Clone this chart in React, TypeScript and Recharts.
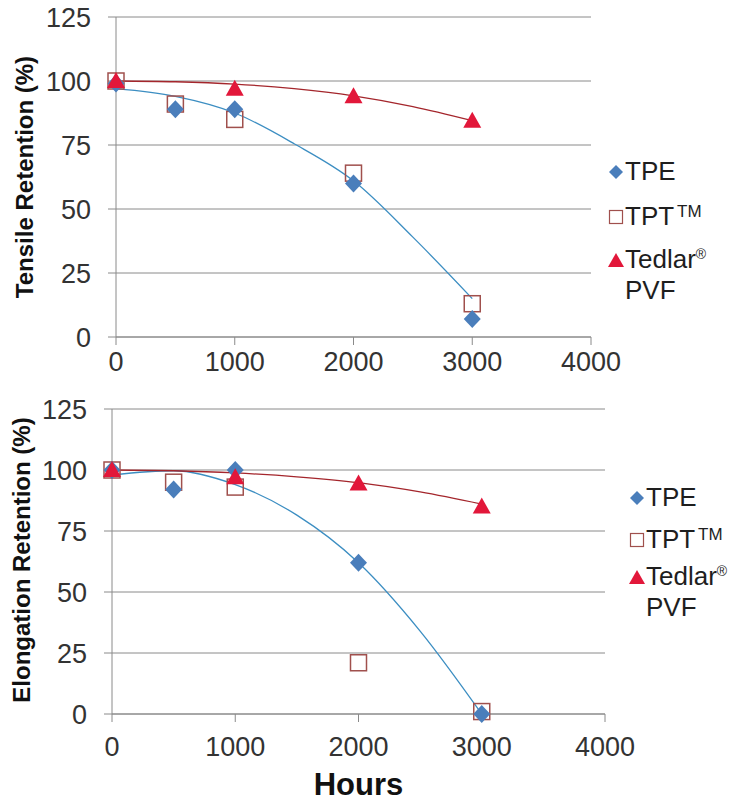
import React from 'react';
import { ScatterChart, Scatter, XAxis, YAxis, CartesianGrid, Legend } from 'recharts';

// measured points
const hours = [0, 500, 1000, 2000, 3000];
const tedlarHours = [0, 1000, 2000, 3000];
const tensileTPE = [99, 89, 89, 60, 7];
const tensileTPT = [100, 91, 85, 64, 13];
const tensileTedlar = [100, 97, 94, 84.5];
const elongTPE = [100, 92, 100, 62, 0];
const elongTPT = [100, 95, 93, 21, 1];
const elongTedlar = [100, 97, 94.5, 85];

// trendlines
const trendHours = [0, 500, 1000, 1500, 2000, 2500, 3000];
const tensileTPETrend = [97, 94, 87.5, 75.5, 61, 39, 15];
const tensileTedlarTrend = [100, 99.7, 98.8, 97, 94.2, 90, 84.5];
const elongTPETrend = [98, 99.7, 94, 81.5, 62, 34, 0];
const elongTedlarTrend = [100, 99.7, 98.8, 97.2, 94.8, 91, 86];

const xTicks = [0, 1000, 2000, 3000, 4000];
const yTicks = [0, 25, 50, 75, 100, 125];
const legendOrder = ['TPE', 'TPT', 'Tedlar'];

const FONT = '"Liberation Sans", Arial, sans-serif';
const GRID = '#8a8a8a';
const BLUE = '#4A7EBB';
const SQUARE = '#A0504D';
const RED = '#E2173A';
const BLUE_TREND = '#3C8EC2';
const RED_TREND = '#A4262C';
const TICK = { fill: '#333', fontSize: 27, fontFamily: FONT };

const toPoints = (xs: number[], ys: number[]) => xs.map((h, i) => ({ h, v: ys[i] }));

const Diamond = ({ cx, cy }: any) => (
  <polygon points={`${cx},${cy - 9} ${cx + 8.5},${cy} ${cx},${cy + 9} ${cx - 8.5},${cy}`} fill={BLUE} />
);
const Square = ({ cx, cy }: any) => (
  <rect x={cx - 8} y={cy - 8} width={16} height={16} fill="none" stroke={SQUARE} strokeWidth={1.5} />
);
const Triangle = ({ cx, cy }: any) => (
  <polygon points={`${cx},${cy - 9} ${cx + 9},${cy + 7} ${cx - 9},${cy + 7}`} fill={RED} />
);
const NoDot = () => <g />;

const legendIcon = (name: string) => {
  if (name === 'TPE')
    return <svg width={18} height={18}><polygon points="9,2 16,9 9,16 2,9" fill={BLUE} /></svg>;
  if (name === 'TPT')
    return <svg width={18} height={18}><rect x={2.5} y={2.5} width={13} height={13} fill="none" stroke={SQUARE} strokeWidth={1.2} /></svg>;
  return <svg width={18} height={18}><polygon points="9,2 17,16 1,16" fill={RED} /></svg>;
};

const legendLabel = (name: string) => {
  if (name === 'TPT')
    return (
      <span>
        TPT<sup style={{ fontSize: 17, verticalAlign: 'top', lineHeight: '22px', marginLeft: 3 }}>TM</sup>
      </span>
    );
  if (name === 'Tedlar')
    return (
      <span>
        Tedlar<sup style={{ fontSize: 14, verticalAlign: 'top', lineHeight: '20px' }}>®</sup>
        <br />
        PVF
      </span>
    );
  return <span>{name}</span>;
};

const makeLegend = (gaps: number[]) => (props: any) => {
  const items = (props.payload || [])
    .filter((e: any) => legendOrder.includes(e.value))
    .sort((a: any, b: any) => legendOrder.indexOf(a.value) - legendOrder.indexOf(b.value));
  return (
    <div style={{ fontFamily: FONT, fontSize: 26, lineHeight: '31px', color: '#1e1e1e' }}>
      {items.map((entry: any, i: number) => (
        <div key={entry.value} style={{ display: 'flex', alignItems: 'flex-start', marginBottom: gaps[i] || 0 }}>
          <div style={{ width: 18, height: 31, display: 'flex', alignItems: 'center' }}>{legendIcon(entry.value)}</div>
          {legendLabel(entry.value)}
        </div>
      ))}
    </div>
  );
};

const yLabel = (text: string, x: number, y: number) => () => (
  <text
    x={x}
    y={y}
    transform={`rotate(-90 ${x} ${y})`}
    textAnchor="middle"
    fontFamily={FONT}
    fontWeight="bold"
    fontSize={24}
    fill="#111"
  >
    {text}
  </text>
);

interface IRetentionChart {
  height: number;
  right: number;
  top: number;
  axisWidth: number;
  xAxisHeight: number;
  xTickMargin: number;
  tpe: { h: number; v: number }[];
  tpt: { h: number; v: number }[];
  tedlar: { h: number; v: number }[];
  tpeTrend: { h: number; v: number }[];
  tedlarTrend: { h: number; v: number }[];
  label: React.ReactNode;
  legendPos: { left: number; top: number };
  legendGaps: number[];
  xLabel?: boolean;
}

const RetentionChart: React.FC<IRetentionChart> = (p) => (
  <ScatterChart width={744} height={p.height} margin={{ top: p.top, right: p.right, bottom: 0, left: 0 }}>
    <CartesianGrid vertical={false} stroke={GRID} />
    <XAxis
      dataKey="h"
      type="number"
      domain={[0, 4000]}
      ticks={xTicks}
      interval={0}
      height={p.xAxisHeight}
      tickSize={8}
      tickMargin={p.xTickMargin}
      stroke={GRID}
      tick={TICK}
      label={
        p.xLabel
          ? { value: 'Hours', position: 'insideBottom', offset: 6, fontSize: 31, fontWeight: 'bold', fill: '#111', fontFamily: FONT }
          : undefined
      }
    />
    <YAxis
      dataKey="v"
      type="number"
      domain={[0, 125]}
      ticks={yTicks}
      interval={0}
      width={p.axisWidth}
      tickSize={8}
      tickMargin={17}
      stroke={GRID}
      tick={TICK}
      label={{ content: p.label as any }}
    />
    <Legend
      layout="horizontal"
      verticalAlign="middle"
      content={makeLegend(p.legendGaps)}
      wrapperStyle={{ left: p.legendPos.left, top: p.legendPos.top, width: 'auto' }}
    />
    <Scatter data={p.tpeTrend} shape={NoDot} line={{ stroke: BLUE_TREND, strokeWidth: 1.3 }} lineJointType="monotoneX" legendType="none" isAnimationActive={false} />
    <Scatter data={p.tedlarTrend} shape={NoDot} line={{ stroke: RED_TREND, strokeWidth: 1.3 }} lineJointType="monotoneX" legendType="none" isAnimationActive={false} />
    <Scatter name="TPT" data={p.tpt} shape={Square} fill={SQUARE} isAnimationActive={false} />
    <Scatter name="TPE" data={p.tpe} shape={Diamond} fill={BLUE} isAnimationActive={false} />
    <Scatter name="Tedlar" data={p.tedlar} shape={Triangle} fill={RED} isAnimationActive={false} />
  </ScatterChart>
);

const App = () => (
  <div style={{ position: 'absolute', left: 0, top: 0, width: 744, height: 801, background: '#fff' }}>
    <RetentionChart
      height={390}
      top={17}
      right={153}
      axisWidth={116}
      xAxisHeight={53}
      xTickMargin={7}
      tpe={toPoints(hours, tensileTPE)}
      tpt={toPoints(hours, tensileTPT)}
      tedlar={toPoints(tedlarHours, tensileTedlar)}
      tpeTrend={toPoints(trendHours, tensileTPETrend)}
      tedlarTrend={toPoints(trendHours, tensileTedlarTrend)}
      label={yLabel('Tensile Retention (%)', 33, 177)}
      legendPos={{ left: 607, top: 156 }}
      legendGaps={[14, 12]}
    />
    <RetentionChart
      height={411}
      top={19}
      right={139}
      axisWidth={112}
      xAxisHeight={87}
      xTickMargin={15}
      tpe={toPoints(hours, elongTPE)}
      tpt={toPoints(hours, elongTPT)}
      tedlar={toPoints(tedlarHours, elongTedlar)}
      tpeTrend={toPoints(trendHours, elongTPETrend)}
      tedlarTrend={toPoints(trendHours, elongTedlarTrend)}
      label={yLabel('Elongation Retention (%)', 30, 170)}
      legendPos={{ left: 628, top: 92 }}
      legendGaps={[11, 6]}
      xLabel
    />
  </div>
);

export default App;
